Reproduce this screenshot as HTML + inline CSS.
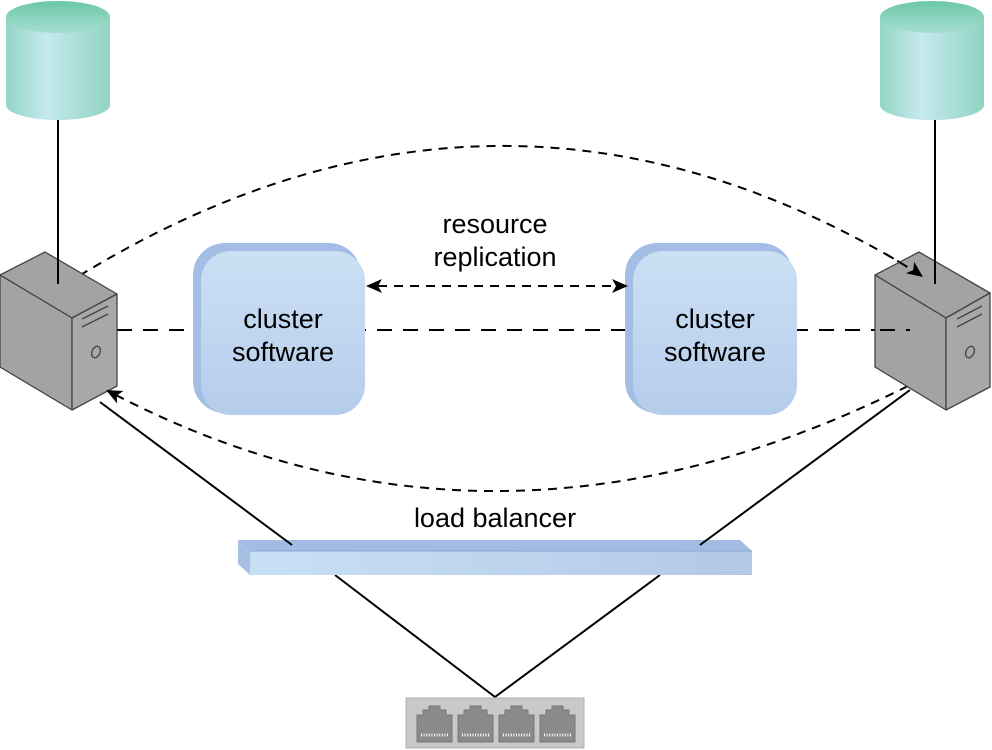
<!DOCTYPE html>
<html><head><style>
body{margin:0;background:#fff;}
svg{display:block;font-family:"Liberation Sans",Arial,sans-serif;}
</style></head><body>
<svg width="992" height="750" viewBox="0 0 992 750" xmlns="http://www.w3.org/2000/svg">
<defs>
<linearGradient id="cyl" x1="0" x2="1" y1="0" y2="0">
<stop offset="0" stop-color="#92d6c4"/><stop offset="0.4" stop-color="#c6e9ef"/><stop offset="1" stop-color="#8fd4c1"/>
</linearGradient>
<linearGradient id="cyltop" x1="0" x2="0" y1="0" y2="1">
<stop offset="0" stop-color="#6cc7a8"/><stop offset="1" stop-color="#a5ded0"/>
</linearGradient>
<linearGradient id="box" x1="0" x2="0" y1="0" y2="1">
<stop offset="0" stop-color="#cce0f4"/><stop offset="1" stop-color="#b5ccec"/>
</linearGradient>
<linearGradient id="bar" x1="0" x2="1">
<stop offset="0" stop-color="#c8e0f4"/><stop offset="1" stop-color="#b3c8e8"/>
</linearGradient>
</defs>

<!-- cylinders -->
<path d="M6,17 L6,105 A52,15 0 0 0 110,105 L110,17 Z" fill="url(#cyl)"/>
<ellipse cx="58" cy="17" rx="52" ry="16" fill="url(#cyltop)"/>
<path d="M880,17 L880,105 A52,15 0 0 0 984,105 L984,17 Z" fill="url(#cyl)"/>
<ellipse cx="932" cy="17" rx="52" ry="16" fill="url(#cyltop)"/>
<line x1="58" y1="120" x2="58" y2="285" stroke="#000" stroke-width="2"/>
<line x1="935" y1="120" x2="935" y2="285" stroke="#000" stroke-width="2"/>

<!-- solid lines -->
<line x1="100" y1="402" x2="292" y2="545" stroke="#000" stroke-width="2"/>
<line x1="910" y1="390" x2="700" y2="545" stroke="#000" stroke-width="2"/>
<line x1="335" y1="575" x2="495" y2="697" stroke="#000" stroke-width="2"/>
<line x1="660" y1="575" x2="495" y2="697" stroke="#000" stroke-width="2"/>

<!-- dashed arcs -->
<path d="M66,284 Q495,14 916,272" fill="none" stroke="#000" stroke-width="2" stroke-dasharray="9,7"/>
<path d="M908,386 Q495,592 114,394" fill="none" stroke="#000" stroke-width="2" stroke-dasharray="9,7"/>

<!-- horizontal dashed -->
<line x1="117" y1="330" x2="910" y2="330" stroke="#000" stroke-width="2" stroke-dasharray="15,11"/>

<!-- cluster boxes -->
<rect x="193" y="243" width="168" height="170" rx="32" fill="#a5bde4"/>
<rect x="201" y="251" width="164" height="164" rx="30" fill="url(#box)"/>
<rect x="625" y="243" width="168" height="170" rx="32" fill="#a5bde4"/>
<rect x="633" y="251" width="164" height="164" rx="30" fill="url(#box)"/>

<line x1="378" y1="286" x2="616" y2="286" stroke="#000" stroke-width="2" stroke-dasharray="9,7"/>
<path d="M366,286 L382,279 L378,286 L382,293 Z" fill="#000"/>
<path d="M628,286 L612,279 L616,286 L612,293 Z" fill="#000"/>

<g font-size="27" text-anchor="middle" fill="#000">
<text x="283" y="328">cluster</text>
<text x="283" y="361">software</text>
<text x="715" y="328">cluster</text>
<text x="715" y="361">software</text>
<text x="495" y="233">resource</text>
<text x="495" y="266">replication</text>
<text x="495" y="527">load balancer</text>
</g>

<!-- servers -->
<g stroke="#444" stroke-width="1.3" stroke-linejoin="round">
<polygon points="0,275 45,252 117,294 72,318" fill="#a3a3a6"/>
<polygon points="0,275 72,318 72,410 0,367" fill="#a3a3a6"/>
<polygon points="72,318 117,294 117,386 72,410" fill="#a8a8ab"/>
<line x1="82" y1="319" x2="108" y2="306"/>
<line x1="82" y1="327" x2="108" y2="314"/>
<ellipse cx="96" cy="352" rx="4" ry="6" transform="rotate(25 96 352)" fill="none"/>
<polygon points="875,275 919,252 990,293 946,318" fill="#a3a3a6"/>
<polygon points="875,275 946,318 946,410 875,367" fill="#a3a3a6"/>
<polygon points="946,318 990,293 990,387 946,410" fill="#a8a8ab"/>
<line x1="957" y1="319" x2="982" y2="306"/>
<line x1="957" y1="327" x2="982" y2="314"/>
<ellipse cx="970" cy="352" rx="4" ry="6" transform="rotate(25 970 352)" fill="none"/>
</g>
<line x1="935" y1="252" x2="935" y2="284" stroke="#000" stroke-width="2"/>
<line x1="58" y1="252" x2="58" y2="284" stroke="#000" stroke-width="2"/>
<path d="M886,254 L914,271" stroke="#000" stroke-width="2" stroke-dasharray="9,7"/>
<path d="M880,330 L910,330" stroke="#000" stroke-width="2" stroke-dasharray="15,11"/>
<!-- arc arrowheads -->
<path d="M0,0 L-16,-7 L-12,0 L-16,7 Z" fill="#000" transform="translate(923,277) rotate(36)"/>
<path d="M0,0 L-16,-7 L-12,0 L-16,7 Z" fill="#000" transform="translate(106,390) rotate(207)"/>

<!-- load balancer bar -->
<polygon points="238,540 740,540 752,551 250,551" fill="#a3bbe2"/>
<polygon points="238,540 250,551 250,575 238,564" fill="#a9c0e6"/>
<rect x="250" y="551" width="502" height="24" fill="url(#bar)"/>
<line x1="250" y1="551" x2="752" y2="551" stroke="#8fa6cc" stroke-width="1"/>
<line x1="284" y1="539" x2="292" y2="545" stroke="#000" stroke-width="2"/>
<line x1="708" y1="539" x2="700" y2="545" stroke="#000" stroke-width="2"/>

<!-- switch -->
<rect x="406" y="698" width="178" height="50" fill="#c9c9c9" stroke="#b0b0b0"/>
<g fill="#8a8a8a" stroke="#777" stroke-width="1">
<path d="M417,742 L417,715 L423,715 L423,710 L429,710 L429,706 L440,706 L440,710 L446,710 L446,715 L452,715 L452,742 Z"/>
<path d="M458,742 L458,715 L464,715 L464,710 L470,710 L470,706 L481,706 L481,710 L487,710 L487,715 L493,715 L493,742 Z"/>
<path d="M499,742 L499,715 L505,715 L505,710 L511,710 L511,706 L522,706 L522,710 L528,710 L528,715 L534,715 L534,742 Z"/>
<path d="M540,742 L540,715 L546,715 L546,710 L552,710 L552,706 L563,706 L563,710 L569,710 L569,715 L575,715 L575,742 Z"/>
</g>
<g stroke="#fff" stroke-width="3" stroke-dasharray="1,1.6">
<line x1="421" y1="735" x2="449" y2="735"/>
<line x1="462" y1="735" x2="490" y2="735"/>
<line x1="503" y1="735" x2="531" y2="735"/>
<line x1="544" y1="735" x2="572" y2="735"/>
</g>
</svg>
</body></html>
